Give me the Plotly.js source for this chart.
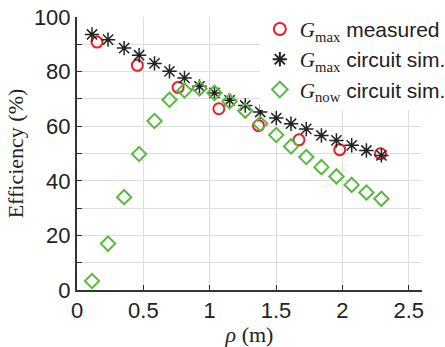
<!DOCTYPE html>
<html><head><meta charset="utf-8">
<script src="https://cdn.plot.ly/plotly-3.0.1.min.js"></script>
<style>body{margin:0;background:#fff}#c{width:445px;height:347px}</style>
</head><body><div id="c"></div>
<script>
const measX = [0.151, 0.455, 0.762, 1.069, 1.368, 1.673, 1.980, 2.287];
const measY = [90.8, 82.3, 74.2, 66.4, 60.2, 55.0, 51.4, 49.9];
const simX = [0.113, 0.234, 0.355, 0.468, 0.584, 0.697, 0.810, 0.923, 1.036, 1.150, 1.268, 1.381, 1.502, 1.613, 1.728, 1.842, 1.955, 2.070, 2.181, 2.294];
const simMaxY = [93.6, 91.7, 88.6, 86.0, 83.0, 80.1, 77.7, 74.6, 72.2, 69.5, 67.6, 65.2, 63.0, 60.9, 59.0, 56.6, 54.8, 53.0, 51.1, 49.3];
const simNowY = [3.3, 17.0, 34.0, 49.8, 61.9, 69.7, 73.1, 73.8, 72.2, 69.1, 65.7, 60.9, 56.8, 52.6, 48.7, 45.0, 41.6, 38.5, 35.7, 33.4];
const names = [
  '<span style="font-family:Liberation Serif"><i>G</i><sub>max</sub></span> measured',
  '<span style="font-family:Liberation Serif"><i>G</i><sub>max</sub></span> circuit sim.',
  '<span style="font-family:Liberation Serif"><i>G</i><sub>now</sub></span> circuit sim.'
];
const traces = [
  {x: measX, y: measY, name: names[0], type:'scatter', mode:'markers',
   marker:{symbol:'circle-open', size:11, color:'#ee1c24', line:{width:2, color:'#ee1c24'}}},
  {x: simX, y: simMaxY, name: names[1], type:'scatter', mode:'markers',
   marker:{symbol:'asterisk-open', size:12, color:'#222', line:{width:1.5, color:'#222'}}},
  {x: simX, y: simNowY, name: names[2], type:'scatter', mode:'markers',
   marker:{symbol:'diamond-open', size:11, color:'#5db843', line:{width:2, color:'#5db843'}}}
];
const layout = {
  width:445, height:347,
  margin:{l:77, r:23, t:17, b:57, autoexpand:false},
  paper_bgcolor:'#fff', plot_bgcolor:'#fff',
  font:{family:'Liberation Sans, Arial', size:21, color:'#222'},
  showlegend:true,
  legend:{x:0.53, y:1.03, xanchor:'left', yanchor:'top', bgcolor:'#fff', borderwidth:0,
          font:{family:'Liberation Sans, Arial', size:21, color:'#222'}, tracegroupgap:0, itemsizing:'constant'},
  xaxis:{range:[0,2.6], tickvals:[0,0.5,1,1.5,2,2.5], ticktext:['0','0.5','1','1.5','2','2.5'],
         showgrid:true, gridcolor:'#dedede', gridwidth:1, zeroline:false,
         showline:true, linecolor:'#333', linewidth:2, ticks:'inside', ticklen:5, tickcolor:'#333',
         tickfont:{size:22}, title:{text:'<i>ρ</i> (m)', font:{family:'Liberation Serif', size:22}, standoff:6}},
  yaxis:{range:[0,100], dtick:20, tick0:0,
         showgrid:true, gridcolor:'#dedede', gridwidth:1, zeroline:false,
         minor:{dtick:10, showgrid:true, gridcolor:'#dedede', ticks:'inside', ticklen:5, tickcolor:'#333'},
         showline:true, linecolor:'#333', linewidth:2, ticks:'inside', ticklen:5, tickcolor:'#333',
         tickfont:{size:22}, title:{text:'Efficiency (%)', font:{family:'Liberation Serif', size:22}, standoff:4}}
};
Plotly.newPlot('c', traces, layout, {displayModeBar:false, staticPlot:true});
</script></body></html>
